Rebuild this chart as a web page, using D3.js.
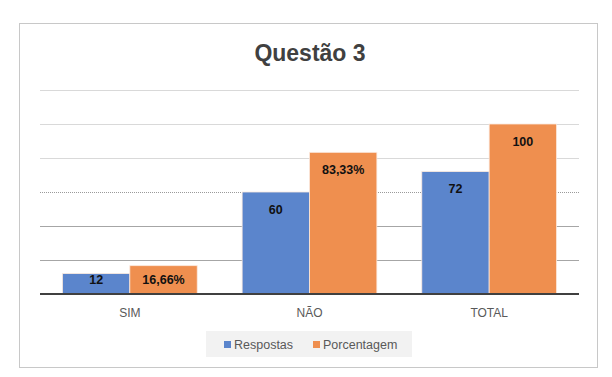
<!DOCTYPE html>
<html lang="pt">
<head>
<meta charset="UTF-8">
<script src="https://d3js.org/d3.v7.min.js"></script>
<title>Questão 3</title>
<style>
  body { margin: 0; background: #fff; }
  text { font-family: "Liberation Sans", "DejaVu Sans", sans-serif; }
</style>
</head>
<body>
<svg class="chart"></svg>
<script>
// data
const categories = ["SIM", "NÃO", "TOTAL"];
const seriesNames = ["Respostas", "Porcentagem"];
const respostas = [12, 60, 72];
const porcentagem = [16.66, 83.33, 100];
const respostasLabels = ["12", "60", "72"];
const porcentagemLabels = ["16,66%", "83,33%", "100"];
const yTicks = [0, 20, 40, 60, 80, 100, 120];

const width = 612, height = 377;
const colors = ["#5b85cc", "#ef8f4f"];
const plotLeft = 40, plotRight = 579, plotTop = 90, plotBottom = 294;

const svg = d3.select(".chart").attr("width", width).attr("height", height);

// chart frame
svg.append("rect")
    .attr("x", 19.5).attr("y", 23.5)
    .attr("width", 578).attr("height", 344)
    .style("fill", "#fff").style("stroke", "#c8c8c8").style("stroke-width", 1);

svg.append("text")
    .attr("x", 310).attr("y", 61)
    .attr("text-anchor", "middle")
    .style("font-size", "23px").style("font-weight", "bold").style("fill", "#404040")
    .text("Questão 3");

const x = d3.scaleBand().domain(categories).range([plotLeft, plotRight]).paddingInner(0.25).paddingOuter(0.125);
const xs = d3.scaleBand().domain(seriesNames).range([0, x.bandwidth()]);
const y = d3.scaleLinear().domain([0, 120]).range([plotBottom, plotTop]);

// gridlines
svg.selectAll(".grid")
    .data(yTicks.slice(1))
    .enter()
    .append("line")
    .attr("x1", plotLeft).attr("x2", plotRight)
    .attr("y1", d => Math.round(y(d)) + 0.5)
    .attr("y2", d => Math.round(y(d)) + 0.5)
    .style("stroke", d => d <= 40 ? "#a6a6a6" : (d == 60 ? "#9a9a9a" : "#d9d9d9"))
    .style("stroke-dasharray", d => d == 60 ? "1,1" : null)
    .style("stroke-width", 1);

const series = [respostas, porcentagem];
const labels = [respostasLabels, porcentagemLabels];

series.forEach(function (vals, s) {
    const g = svg.append("g");
    g.selectAll("rect")
        .data(vals)
        .enter()
        .append("rect")
        .attr("x", (d, i) => x(categories[i]) + xs(seriesNames[s]))
        .attr("y", d => y(d))
        .attr("width", xs.bandwidth())
        .attr("height", d => plotBottom - y(d))
        .style("fill", colors[s])
        .style("stroke", "#fbe9de").style("stroke-width", 0.8);
    g.selectAll("text")
        .data(vals)
        .enter()
        .append("text")
        .attr("x", (d, i) => x(categories[i]) + xs(seriesNames[s]) + xs.bandwidth() / 2)
        .attr("y", d => Math.min(y(d) + 17, plotBottom - 15) + 4.5)
        .attr("text-anchor", "middle")
        .style("font-size", "12.5px").style("font-weight", "bold").style("fill", "#111")
        .text((d, i) => labels[s][i]);
});

// baseline
svg.append("line")
    .attr("x1", plotLeft).attr("x2", plotRight)
    .attr("y1", plotBottom).attr("y2", plotBottom)
    .style("stroke", "#404040").style("stroke-width", 2);

// category labels
svg.selectAll(".cat")
    .data(categories)
    .enter()
    .append("text")
    .attr("x", d => x(d) + x.bandwidth() / 2)
    .attr("y", 317)
    .attr("text-anchor", "middle")
    .style("font-size", "12px").style("fill", "#595959")
    .text(d => d);

// legend
svg.append("rect")
    .attr("x", 206).attr("y", 331).attr("width", 206).attr("height", 26)
    .style("fill", "#f2f2f2");
const legendX = [224, 313];
seriesNames.forEach(function (name, s) {
    svg.append("rect")
        .attr("x", legendX[s]).attr("y", 341).attr("width", 7).attr("height", 7)
        .style("fill", colors[s]);
    svg.append("text")
        .attr("x", legendX[s] + 10).attr("y", 349)
        .style("font-size", "12.5px").style("fill", "#595959")
        .text(name);
});
</script>
</body>
</html>
